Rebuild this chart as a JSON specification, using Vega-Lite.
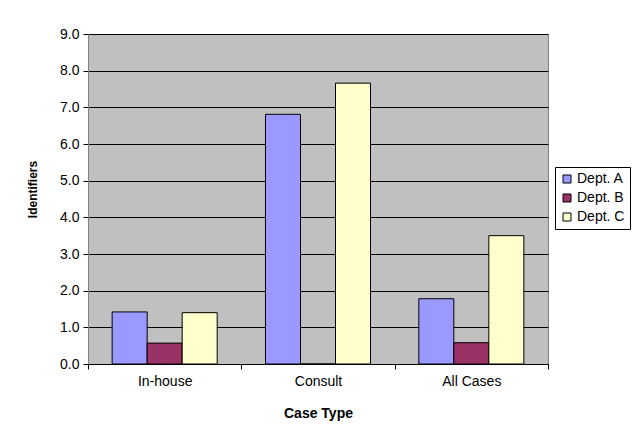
{
  "$schema": "https://vega.github.io/schema/vega-lite/v6.json",
  "width": 460,
  "height": 330,
  "autosize": {"type": "none"},
  "padding": {"left": 88, "top": 34, "right": 89, "bottom": 72},
  "background": "white",
  "config": {
    "font": "Liberation Sans",
    "view": {"fill": "#C0C0C0", "stroke": "#808080", "strokeWidth": 1}
  },
  "data": {
    "values": [
      {"case": "In-house", "dept": "Dept. A", "value": 1.42},
      {"case": "In-house", "dept": "Dept. B", "value": 0.57},
      {"case": "In-house", "dept": "Dept. C", "value": 1.40},
      {"case": "Consult", "dept": "Dept. A", "value": 6.81},
      {"case": "Consult", "dept": "Dept. B", "value": 0},
      {"case": "Consult", "dept": "Dept. C", "value": 7.66},
      {"case": "All Cases", "dept": "Dept. A", "value": 1.78},
      {"case": "All Cases", "dept": "Dept. B", "value": 0.58},
      {"case": "All Cases", "dept": "Dept. C", "value": 3.50}
    ]
  },
  "mark": {"type": "bar", "stroke": "black", "strokeWidth": 1},
  "encoding": {
    "x": {
      "field": "case",
      "type": "nominal",
      "sort": ["In-house", "Consult", "All Cases"],
      "scale": {"paddingInner": 0, "paddingOuter": 0},
      "axis": {
        "title": "Case Type",
        "titleFontSize": 14,
        "titleFontWeight": "bold",
        "titleColor": "black",
        "titlePadding": 18,
        "labelAngle": 0,
        "labelFontSize": 14,
        "labelColor": "black",
        "labelPadding": 5,
        "tickBand": "extent",
        "tickColor": "black",
        "tickSize": 5,
        "domainColor": "black",
        "grid": false
      }
    },
    "xOffset": {
      "field": "dept",
      "type": "nominal",
      "scale": {"paddingInner": 0, "paddingOuter": 0.69}
    },
    "y": {
      "field": "value",
      "type": "quantitative",
      "scale": {"domain": [0, 9], "nice": false},
      "axis": {
        "title": "Identifiers",
        "titleFontSize": 12,
        "titleFontWeight": "bold",
        "titleColor": "black",
        "titlePadding": 20,
        "titleY": 155,
        "values": [0, 1, 2, 3, 4, 5, 6, 7, 8, 9],
        "format": ".1f",
        "labelFontSize": 14,
        "labelColor": "black",
        "labelPadding": 4,
        "tickColor": "black",
        "tickSize": 5,
        "domainColor": "#808080",
        "grid": true,
        "gridColor": "black",
        "gridWidth": 1,
        "gridOpacity": 1
      }
    },
    "color": {
      "field": "dept",
      "type": "nominal",
      "scale": {
        "domain": ["Dept. A", "Dept. B", "Dept. C"],
        "range": ["#9999FF", "#993366", "#FFFFCC"]
      },
      "legend": {
        "title": null,
        "orient": "none",
        "legendX": 467,
        "legendY": 133,
        "symbolType": "square",
        "symbolSize": 64,
        "symbolStrokeColor": "black",
        "symbolStrokeWidth": 1,
        "labelFontSize": 14,
        "labelColor": "black",
        "labelOffset": 3,
        "rowPadding": 5,
        "padding": 5,
        "strokeColor": "black",
        "fillColor": "white"
      }
    }
  }
}
